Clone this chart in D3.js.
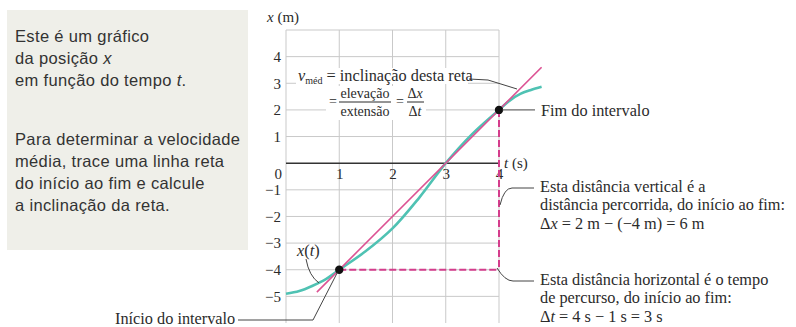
<!DOCTYPE html>
<html>
<head>
<meta charset="utf-8">
<script src="https://cdn.jsdelivr.net/npm/d3@7"></script>
<style>
  body { margin: 0; background: #fff; }
  svg { display: block; }
</style>
</head>
<body>
<svg id="chart" width="796" height="327"></svg>
<script>
// Position–time data (t in s, x in m)
const timeTicks = [1, 2, 3, 4];
const positionTicks = [-5, -4, -3, -2, -1, 1, 2, 3, 4];
const curveT = [0, 0.25, 0.5, 0.75, 1, 1.5, 2, 2.5, 3, 3.5, 4, 4.2, 4.4, 4.6, 4.8];
const curveX = [-4.9, -4.8, -4.6, -4.35, -4, -3.3, -2.45, -1.3, 0, 1.1, 2, 2.35, 2.6, 2.75, 2.87];
// Start and end of the interval
const intervalT = [1, 4];
const intervalX = [-4, 2];
// Extent of the drawn secant line
const secantSpan = [0.58, 4.8];

const leftNote1 = [["Este é um gráfico"], ["da posição ", {i: "x"}], ["em função do tempo ", {i: "t"}, "."]];
const leftNote2 = ["Para determinar a velocidade", "média, trace uma linha reta", "do início ao fim e calcule", "a inclinação da reta."];

const svg = d3.select("#chart");
const x = d3.scaleLinear().domain([0, 4]).range([286, 499]);
const y = d3.scaleLinear().domain([-6, 5]).range([323, 30]);

const SERIF = "'Liberation Serif', 'Times New Roman', serif";
const SANS = "'Liberation Sans', Arial, sans-serif";
const INK = "#2b2b2b";

// ---- Explanatory box on the left
svg.append("rect").attr("x", 7).attr("y", 10).attr("width", 241).attr("height", 240).attr("fill", "#efefe9");
const noteG = svg.append("g").attr("font-family", SANS).attr("font-size", 16.5).attr("fill", "#333").attr("letter-spacing", 0.35);
function addLine(parts, yy) {
  const t = noteG.append("text").attr("x", 15).attr("y", yy);
  parts.forEach(p => {
    if (typeof p === "string") t.append("tspan").text(p);
    else t.append("tspan").attr("font-style", "italic").text(p.i);
  });
}
leftNote1.forEach((p, i) => addLine(p, 42 + i * 22));
leftNote2.forEach((p, i) => addLine([p], 145 + i * 22));

// ---- Grid
const grid = svg.append("g").attr("stroke", "#c9c9c9").attr("stroke-width", 1);
grid.selectAll("line.v").data([0, 1, 2, 3, 4]).join("line")
  .attr("x1", d => x(d)).attr("x2", d => x(d)).attr("y1", y(5)).attr("y2", y(-6));
grid.selectAll("line.h").data([5, 4, 3, 2, 1, -1, -2, -3, -4, -5]).join("line")
  .attr("class", "h")
  .attr("x1", x(0)).attr("x2", x(4)).attr("y1", d => y(d)).attr("y2", d => y(d));

// Knock-out behind the slope formula
svg.append("rect").attr("x", 296).attr("y", 68).attr("width", 172).attr("height", 16).attr("fill", "#fff");
svg.append("rect").attr("x", 326).attr("y", 86).attr("width", 100).attr("height", 34).attr("fill", "#fff");

// Time axis
svg.append("line").attr("x1", x(0)).attr("x2", x(4)).attr("y1", y(0)).attr("y2", y(0))
  .attr("stroke", "#333").attr("stroke-width", 1.4);

// ---- Axis labels via d3 axes
const fmt = d => d < 0 ? "\u2212" + Math.abs(d) : String(d);
const yAxis = svg.append("g").attr("transform", `translate(${x(0)},0)`)
  .call(d3.axisLeft(y).tickValues(positionTicks).tickSize(0).tickPadding(5).tickFormat(fmt));
const xAxis = svg.append("g").attr("transform", `translate(0,${y(0)})`)
  .call(d3.axisBottom(x).tickValues(timeTicks).tickSize(0).tickPadding(5).tickFormat(fmt));
[yAxis, xAxis].forEach(a => {
  a.select(".domain").remove();
  a.attr("font-family", SERIF).attr("font-size", 15);
  a.selectAll("text").attr("fill", INK);
});
svg.append("text").attr("x", 282).attr("y", 179).attr("text-anchor", "end")
  .attr("font-family", SERIF).attr("font-size", 15).attr("fill", INK).text("0");

// Axis titles
const xTitle = svg.append("text").attr("x", 267).attr("y", 22).attr("font-family", SERIF).attr("font-size", 15).attr("fill", INK);
xTitle.append("tspan").attr("font-style", "italic").text("x");
xTitle.append("tspan").text(" (m)");
const tTitle = svg.append("text").attr("x", 504).attr("y", 168).attr("font-family", SERIF).attr("font-size", 15).attr("fill", INK);
tTitle.append("tspan").attr("font-style", "italic").text("t");
tTitle.append("tspan").text(" (s)");

// ---- Curves
const pts = curveT.map((t, i) => [t, curveX[i]]);
const line = d3.line().x(d => x(d[0])).y(d => y(d[1]));
const slope = (intervalX[1] - intervalX[0]) / (intervalT[1] - intervalT[0]);
const secant = secantSpan.map(t => [t, intervalX[0] + slope * (t - intervalT[0])]);

svg.append("path").datum(pts).attr("d", line.curve(d3.curveCatmullRom))
  .attr("fill", "none").attr("stroke", "#4fc2b3").attr("stroke-width", 2.6);
svg.append("path").datum(secant).attr("d", d3.line().x(d => x(d[0])).y(d => y(d[1])))
  .attr("fill", "none").attr("stroke", "#dc5293").attr("stroke-width", 1.6);

// Dashed rise / run guides
const dash = svg.append("g").attr("stroke", "#d43d8c").attr("stroke-width", 2).attr("stroke-dasharray", "7,3").attr("fill", "none");
dash.append("line").attr("x1", x(intervalT[1])).attr("x2", x(intervalT[1])).attr("y1", y(intervalX[1])).attr("y2", y(intervalX[0]));
dash.append("line").attr("x1", x(intervalT[0])).attr("x2", x(intervalT[1])).attr("y1", y(intervalX[0])).attr("y2", y(intervalX[0]));

// End-point dots
svg.selectAll("circle.end").data(intervalT.map((t, i) => [t, intervalX[i]])).join("circle")
  .attr("cx", d => x(d[0])).attr("cy", d => y(d[1])).attr("r", 4.2).attr("fill", "#111");

// ---- Annotations
const lead = svg.append("g").attr("stroke", "#444").attr("stroke-width", 1).attr("fill", "none");
lead.append("path").attr("d", "M469,79 L488,80 L517,89");
lead.append("path").attr("d", `M${x(4) + 3},${y(2)} L535,${y(2)}`);
lead.append("path").attr("d", "M500,205 Q504,188 512,188 L534,188");
lead.append("path").attr("d", "M497,268 Q505,281 513,281 L534,281");
lead.append("path").attr("d", "M306,259 Q309,276 319,283");
lead.append("path").attr("d", `M238,320 L313,320 L${x(1) - 2},${y(-4) + 3}`);

const ann = svg.append("g").attr("font-family", SERIF).attr("font-size", 16.3).attr("fill", INK);
// v_méd = inclinação desta reta
const vm = ann.append("text").attr("x", 298).attr("y", 81);
vm.append("tspan").attr("font-style", "italic").text("v");
vm.append("tspan").attr("font-size", 10).attr("dy", 3).text("méd");
vm.append("tspan").attr("dy", -3).text(" = inclinação desta reta");
// = elevação / extensão = Δx / Δt
const fr = ann.append("g").attr("font-size", 14);
fr.append("text").attr("x", 333).attr("y", 106).attr("text-anchor", "middle").text("=");
fr.append("text").attr("x", 365).attr("y", 98).attr("text-anchor", "middle").text("elevação");
fr.append("line").attr("x1", 339).attr("x2", 391).attr("y1", 102).attr("y2", 102).attr("stroke", INK).attr("stroke-width", 1);
fr.append("text").attr("x", 365).attr("y", 116).attr("text-anchor", "middle").text("extensão");
fr.append("text").attr("x", 400).attr("y", 106).attr("text-anchor", "middle").text("=");
const dx = fr.append("text").attr("x", 415).attr("y", 98).attr("text-anchor", "middle");
dx.append("tspan").text("Δ"); dx.append("tspan").attr("font-style", "italic").text("x");
fr.append("line").attr("x1", 407).attr("x2", 424).attr("y1", 102).attr("y2", 102).attr("stroke", INK).attr("stroke-width", 1);
const dt = fr.append("text").attr("x", 415).attr("y", 116).attr("text-anchor", "middle");
dt.append("tspan").text("Δ"); dt.append("tspan").attr("font-style", "italic").text("t");

ann.append("text").attr("x", 541).attr("y", 116).text("Fim do intervalo");
ann.append("text").attr("x", 115).attr("y", 324).text("Início do intervalo");
const xt = ann.append("text").attr("x", 297).attr("y", 256);
xt.append("tspan").attr("font-style", "italic").text("x");
xt.append("tspan").text("(");
xt.append("tspan").attr("font-style", "italic").text("t");
xt.append("tspan").text(")");

function block(lines, x0, y0) {
  lines.forEach((parts, i) => {
    const t = ann.append("text").attr("x", x0).attr("y", y0 + i * 18.3);
    parts.forEach(p => {
      if (typeof p === "string") t.append("tspan").text(p);
      else t.append("tspan").attr("font-style", "italic").text(p.i);
    });
  });
}
block([["Esta distância vertical é a"], ["distância percorrida, do início ao fim:"],
       ["Δ", {i: "x"}, " = 2 m − (−4 m) = 6 m"]], 540, 192);
block([["Esta distância horizontal é o tempo"], ["de percurso, do início ao fim:"],
       ["Δ", {i: "t"}, " = 4 s − 1 s = 3 s"]], 540, 285);
</script>
</body>
</html>
